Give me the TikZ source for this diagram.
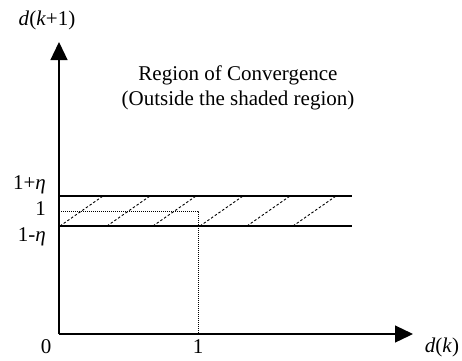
\documentclass[tikz,border=0pt]{standalone}
\usepackage{fontspec}
\setmainfont{Liberation Serif}
\usetikzlibrary{arrows.meta}
\begin{document}
\begin{tikzpicture}[x=1pt,y=-1pt,
  lbl/.style={font=\fontsize{21}{25}\selectfont, inner sep=0pt},
  axis/.style={line width=1.3pt, -{Triangle[length=18pt,width=17pt]}},
  bandline/.style={line width=1.3pt},
  guide/.style={line width=0.9pt, dash pattern=on 1pt off 1pt},
  hatch/.style={line width=0.9pt, dash pattern=on 2.5pt off 2pt}]
\useasboundingbox (0,0) rectangle (462,360);
\coordinate (O) at (59,334);
\coordinate (ytip) at (59,42);
\coordinate (xtip) at (413,334);
\draw[axis] (O) -- (ytip);
\draw[axis] (O) -- (xtip);
\coordinate (bl) at (59,226);
\coordinate (br) at (352,226);
\coordinate (tl) at (59,196);
\coordinate (tr) at (352,196);
\draw[bandline] (tl) -- (tr);
\draw[bandline] (bl) -- (br);
\coordinate (g0) at (59,211);
\coordinate (g1) at (198,211);
\coordinate (g2) at (198,334);
\draw[guide] (g0) -- (g1) -- (g2);
\foreach \b/\t in {60/103,107/150,153/196,200/243,247/290,293/336}
  \draw[hatch] (\b,226) -- (\t,196);
\node[lbl] (yl) at (47,20) {\textit{d}(\textit{k}+1)};
\node[lbl] (xl) at (442,347) {\textit{d}(\textit{k})};
\node[lbl] (zero) at (46,347) {0};
\node[lbl] (one) at (198,347) {1};
\node[lbl, anchor=east] (upl) at (46,185) {1+\textit{η}};
\node[lbl, anchor=east] (midl) at (46,209) {1};
\node[lbl, anchor=east] (lowl) at (46,237) {1-\textit{η}};
\node[lbl, align=center] (roc) at (238,88) {Region of Convergence\\(Outside the shaded region)};
\end{tikzpicture}
\end{document}
